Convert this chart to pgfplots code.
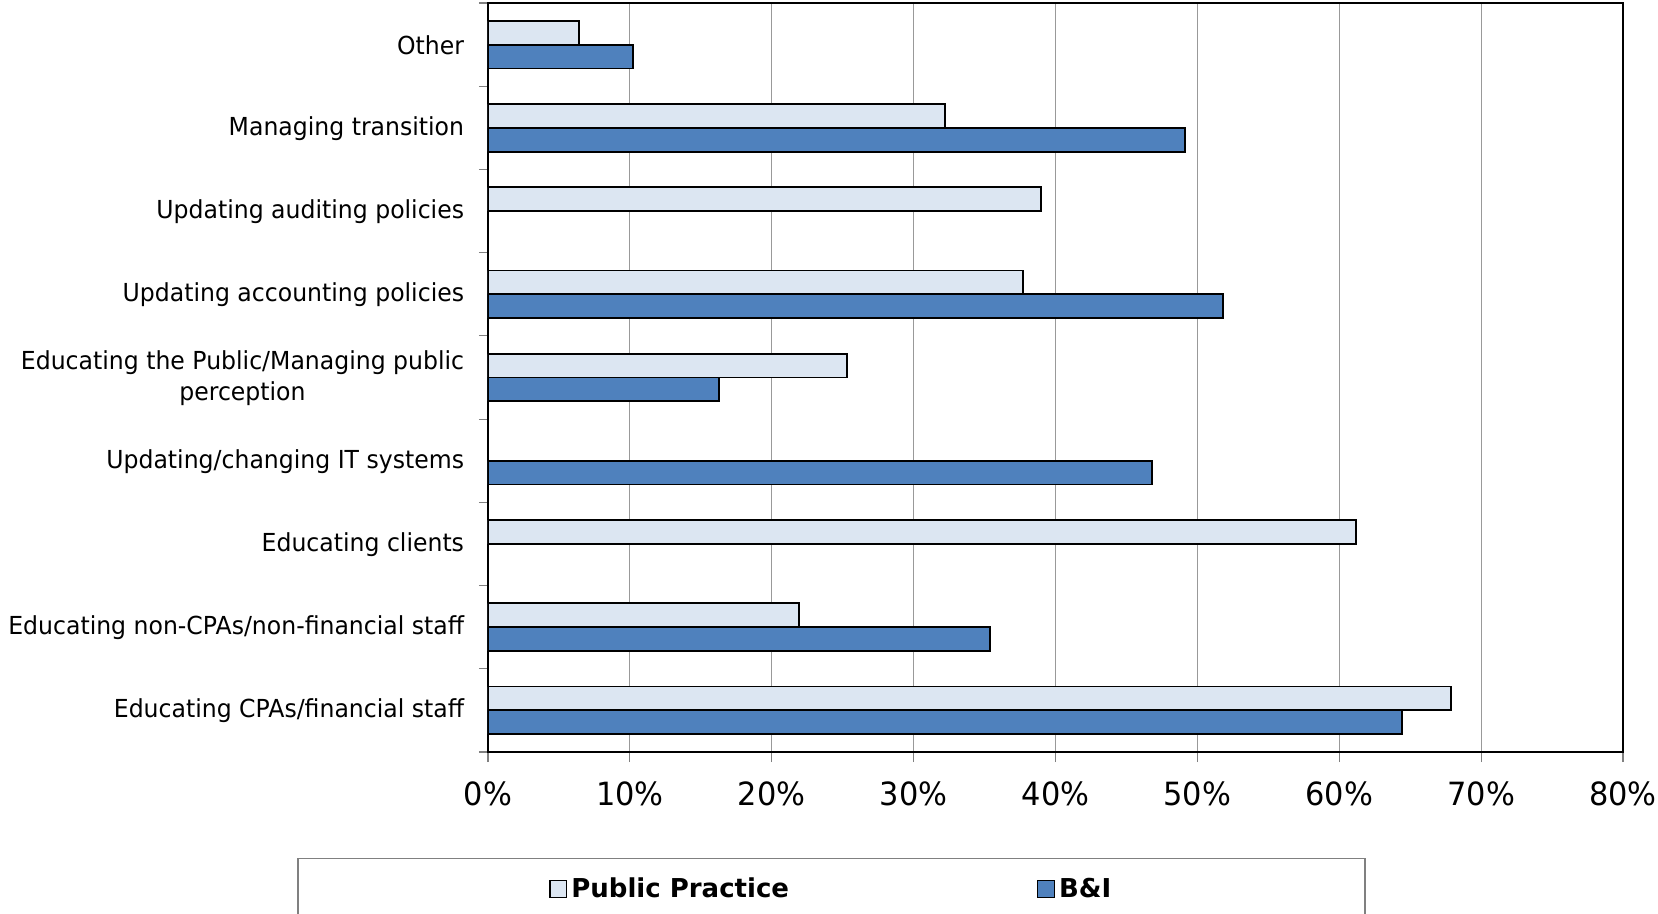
\documentclass[border=0pt]{standalone}
\usepackage{pgfplots}
\pgfplotsset{compat=1.18}
\usepackage{fontspec}
\setmainfont{DejaVu Sans}[FakeStretch=0.95]
\newfontfamily\legfont{DejaVu Sans}
\definecolor{ppfill}{HTML}{DCE6F2}
\definecolor{bifill}{HTML}{4F81BD}
\begin{document}
\begin{tikzpicture}
\useasboundingbox (-244pt,-81pt) rectangle (585pt,376pt);
	\begin{axis}[
		scale only axis,
		width=567.5pt, height=374.5pt,
		xbar,
		bar width=0.286,
		xmin=0, xmax=80,
		ymin=-0.5, ymax=8.5,
		xtick={0,10,...,80},
		xticklabel={\pgfmathprintnumber{\tick}\%},
		/pgf/number format/assume math mode=true,
		ytick={0,...,8},
		yticklabels={Educating CPAs/financial staff, Educating non-CPAs/non-financial staff, Educating clients, Updating/changing IT systems, {Educating the Public/Managing public\\perception}, Updating accounting policies, Updating auditing policies, Managing transition, Other},
		minor ytick={-0.5,0.5,...,8.5},
		tick align=outside,
		tick pos=left,
		major tick length=5pt,
		minor tick length=4.5pt,
		ytick style={draw=none},
		minor y tick style={draw=gray, line width=0.6pt},
		xtick style={draw=gray, line width=0.6pt},
		xmajorgrids,
		major grid style={draw=gray!80, line width=0.5pt},
		axis line style={black, line width=1pt},
		yticklabel style={font=\fontsize{12.4}{15.9}\selectfont, align=center, anchor=east, inner sep=0pt, xshift=-6.8pt, yshift=-0.3pt},
		xticklabel style={font=\fontsize{16}{19}\selectfont, anchor=north, inner sep=0pt, yshift=-9.6pt},
		legend columns=2,
		legend style={at={(axis description cs:0.0537,-0.1830)}, anchor=west, draw=none, fill=none,
			inner xsep=0pt, font=\legfont\bfseries\fontsize{13}{15}\selectfont,
			nodes={inner xsep=2pt},
			/tikz/every even column/.append style={column sep=122pt}},
		legend image code/.code={\draw[#1, line width=0.7pt] (0pt,-4.15pt) rectangle (8.3pt,4.15pt);},
	]
	\addplot[bar shift=0.143, fill=ppfill, draw=black, line width=0.9pt] coordinates {
		(67.9,0) (21.9,1) (61.2,2) (25.3,4) (37.7,5) (39.0,6) (32.2,7) (6.4,8)
	};
	\addplot[bar shift=-0.143, fill=bifill, draw=black, line width=0.9pt] coordinates {
		(64.4,0) (35.4,1) (46.8,3) (16.3,4) (51.8,5) (49.1,7) (10.2,8)
	};
	\legend{Public Practice, B\&I}
	\end{axis}
	\draw[gray, line width=0.6pt] (-95pt,-100pt) rectangle (438.5pt,-53.3pt);
\end{tikzpicture}
\end{document}
